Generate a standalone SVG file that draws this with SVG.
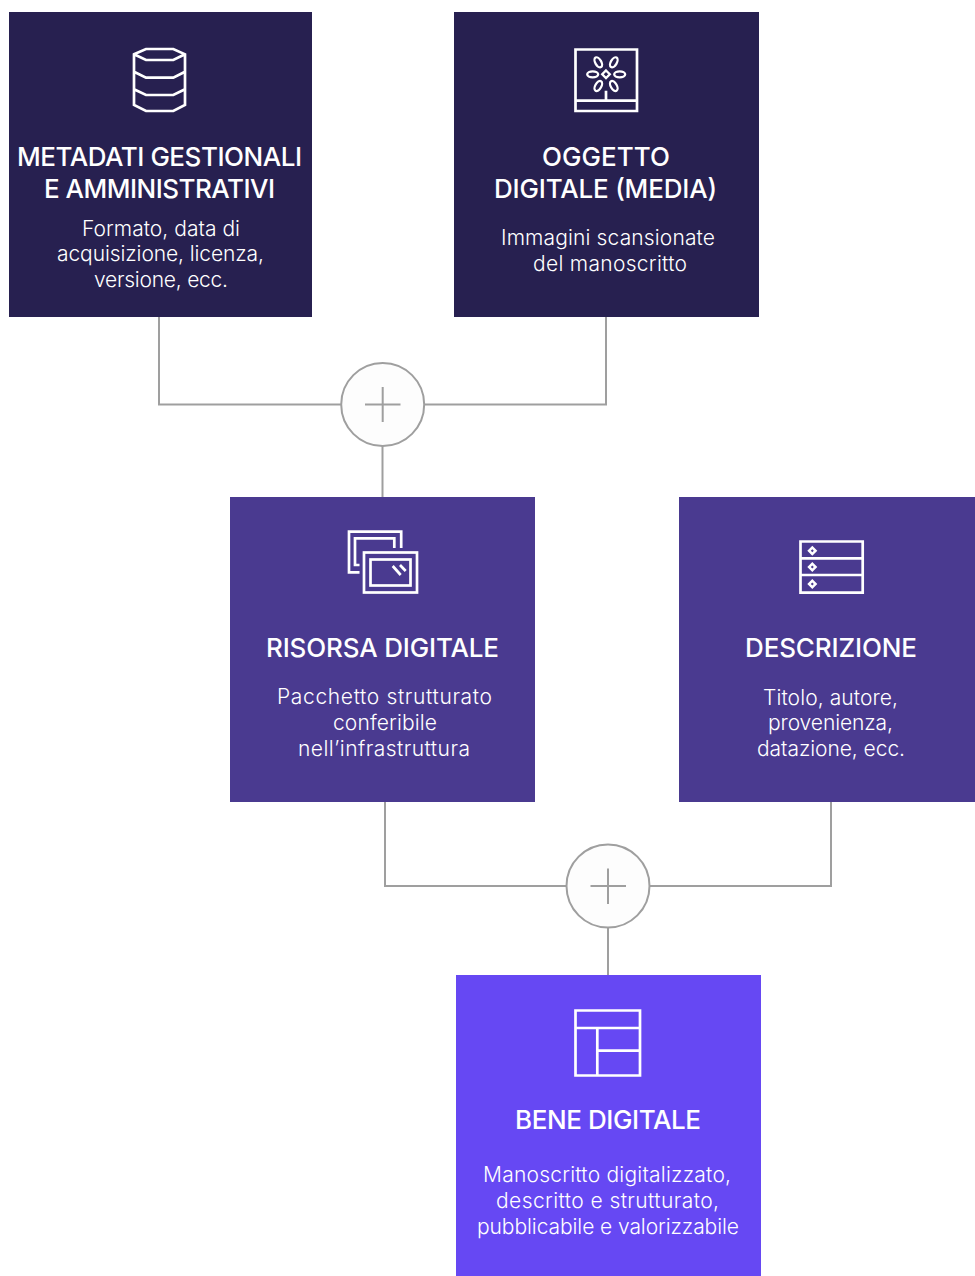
<svg xmlns="http://www.w3.org/2000/svg" width="975" height="1276" viewBox="0 0 975 1276">
<style>
.t{font-family:"Inter","Liberation Sans",sans-serif;font-size:26px;font-weight:500;fill:#fff;text-anchor:middle}
.d{font-family:"Inter","Liberation Sans",sans-serif;font-size:21px;font-weight:300;fill:#fff;text-anchor:middle}
.i{fill:none;stroke:#fff;stroke-width:2.7}
.c{fill:none;stroke:#9f9f9f;stroke-width:2}
.p{fill:#fdfdfd;stroke:#9f9f9f;stroke-width:2}
</style>
<rect width="975" height="1276" fill="#fff"/>
<g id="connectors">
<path class="c" d="M159 317V404.500H341M425 404.500H606V317M382.500 446V497"/>
<path class="c" d="M385 802V886H566M650 886H831V802M608 928V975"/>
</g>
<g id="plus1"><circle class="p" cx="382.700" cy="404.500" r="41.500"/><path class="c" d="M365 404.500H400.500M382.700 387V422"/></g>
<g id="plus2"><circle class="p" cx="608" cy="886" r="41.500"/><path class="c" d="M590.500 886H626M608 868.500V904"/></g>
<g id="metadati">
<rect x="9" y="12" width="303" height="305" fill="#272050"/>
<path class="i" d="M134 54.300L146 49H173.300L185 54.300V105L173.300 111H146L134 105ZM134 54.300L146 60H173.300L185 54.300M134 71.700L146 77.700H173.300L185 71.700M134 89.300L146 95H173.300L185 89.300"/>
<text class="t" x="159.500" y="166" textLength="285">METADATI GESTIONALI</text>
<text class="t" x="159.500" y="198" textLength="231">E AMMINISTRATIVI</text>
<text class="d" x="161" y="235.500" textLength="158">Formato, data di</text>
<text class="d" x="160.500" y="261" textLength="207">acquisizione, licenza,</text>
<text class="d" x="161" y="287" textLength="134">versione, ecc.</text>
</g>
<g id="oggetto">
<rect x="454" y="12" width="305" height="305" fill="#272050"/>
<path class="i" d="M575.500 49.500H637V111H575.500ZM575.500 100.700H637M606 90.700V100.700"/>
<g class="i" style="stroke-width:2.300">
<path d="M606 70.500L609.800 74.300L606 78.100L602.200 74.300Z"/>
<ellipse cx="592.700" cy="74.300" rx="5.500" ry="3"/>
<ellipse cx="619.700" cy="74.300" rx="5.500" ry="3"/>
<ellipse cx="598.300" cy="62.300" rx="5.500" ry="3" transform="rotate(60 598.300 62.300)"/>
<ellipse cx="613.800" cy="62.300" rx="5.500" ry="3" transform="rotate(-60 613.800 62.300)"/>
<ellipse cx="598.300" cy="86" rx="5.500" ry="3" transform="rotate(-60 598.300 86)"/>
<ellipse cx="613.800" cy="86" rx="5.500" ry="3" transform="rotate(60 613.800 86)"/>
</g>
<text class="t" x="606" y="166" textLength="128">OGGETTO</text>
<text class="t" x="605.500" y="198" textLength="223">DIGITALE (MEDIA)</text>
<text class="d" x="608" y="244.500" textLength="214">Immagini scansionate</text>
<text class="d" x="610" y="270.500" textLength="154">del manoscritto</text>
</g>
<g id="risorsa">
<rect x="230" y="497" width="305" height="305" fill="#4a3a90"/>
<path class="i" d="M401.200 548V531.700H349V572.300H359.500M394.300 548V538.300H355V565H359.500"/>
<rect class="i" x="364" y="552.500" width="53" height="40"/>
<rect class="i" x="370.500" y="559.500" width="40" height="26"/>
<path class="i" d="M392.700 566L400.700 575M400 565L405.700 571"/>
<text class="t" x="382.500" y="657" textLength="233">RISORSA DIGITALE</text>
<text class="d" x="384.500" y="703.500" textLength="215">Pacchetto strutturato</text>
<text class="d" x="385" y="729.500" textLength="104">conferibile</text>
<text class="d" x="384" y="755.500" textLength="172">nell’infrastruttura</text>
</g>
<g id="descrizione">
<rect x="679" y="497" width="296" height="305" fill="#4a3a90"/>
<path class="i" d="M800.500 541.500H862.700V592.700H800.500ZM800.500 558.300H862.700M800.500 575H862.700"/>
<path fill="#fff" d="M812.300 545.700L817.300 550.700L812.300 555.700L807.300 550.700ZM812.300 562L817.300 567L812.300 572L807.300 567ZM812.300 579L817.300 584L812.300 589L807.300 584Z"/>
<path fill="#4a3a90" d="M812.300 549.200L813.800 550.700L812.300 552.200L810.800 550.700ZM812.300 565.500L813.800 567L812.300 568.500L810.800 567ZM812.300 582.500L813.800 584L812.300 585.500L810.800 584Z"/>
<text class="t" x="831" y="657" textLength="172">DESCRIZIONE</text>
<text class="d" x="830.500" y="704.500" textLength="135">Titolo, autore,</text>
<text class="d" x="830.500" y="729.500" textLength="125">provenienza,</text>
<text class="d" x="831" y="755.500" textLength="148">datazione, ecc.</text>
</g>
<g id="bene">
<rect x="456" y="975" width="305" height="301" fill="#6648f3"/>
<path class="i" d="M575.500 1010.500H640V1075.500H575.500ZM575.500 1028H640M597.300 1028V1075.500M597.300 1050.700H640"/>
<text class="t" x="608" y="1129" textLength="186">BENE DIGITALE</text>
<text class="d" x="607" y="1181.500" textLength="248">Manoscritto digitalizzato,</text>
<text class="d" x="607.500" y="1207.500" textLength="223">descritto e strutturato,</text>
<text class="d" x="608" y="1233.500" textLength="262">pubblicabile e valorizzabile</text>
</g>
</svg>
